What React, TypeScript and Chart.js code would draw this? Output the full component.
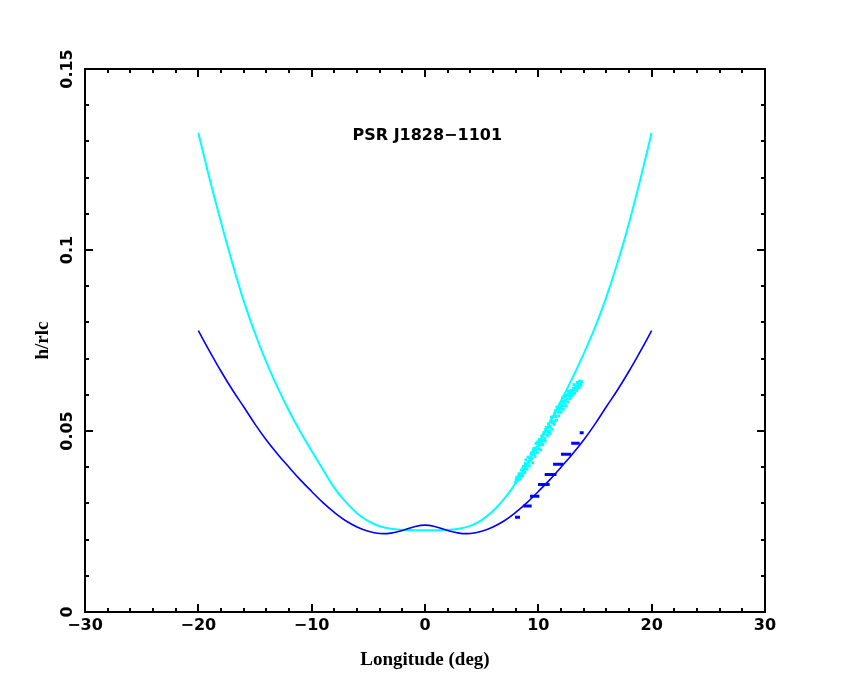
import { useEffect, useRef } from "react";
import { Chart, registerables } from "chart.js";

Chart.register(...registerables);

// model curves, sampled every degree of longitude
const curveLon = [
  -20, -19, -18, -17, -16, -15, -14, -13, -12, -11, -10, -9, -8, -7, -6, -5, -4, -3, -2, -1, 0,
  1, 2, 3, 4, 5, 6, 7, 8, 9, 10, 11, 12, 13, 14, 15, 16, 17, 18, 19, 20,
];
const cyanModel = [
  0.1324, 0.1196, 0.1077, 0.0964, 0.086, 0.077, 0.069, 0.062, 0.0556, 0.0498, 0.0445, 0.0393,
  0.0343, 0.0304, 0.0273, 0.0251, 0.0237, 0.023, 0.0227, 0.0226, 0.0226,
  0.0226, 0.0227, 0.023, 0.0238, 0.0254, 0.0279, 0.0313, 0.0356, 0.0408, 0.0464, 0.0522, 0.0583,
  0.0646, 0.0713, 0.0786, 0.087, 0.0966, 0.1074, 0.1195, 0.1324,
];
const blueModel = [
  0.0777, 0.072, 0.0665, 0.0614, 0.0567, 0.0519, 0.0475, 0.0436, 0.04, 0.0365, 0.0333, 0.0302,
  0.0275, 0.0252, 0.0235, 0.0223, 0.0217, 0.0218, 0.0225, 0.0235, 0.024,
  0.0235, 0.0225, 0.0218, 0.0217, 0.0223, 0.0235, 0.0252, 0.0275, 0.0302, 0.0333, 0.0365, 0.04,
  0.0436, 0.0475, 0.0519, 0.0567, 0.0614, 0.0665, 0.072, 0.0777,
];

// measured emission heights (cyan cloud)
const obsLon = [
  8.0, 8.1, 8.2, 8.3, 8.4, 8.5, 8.6, 8.7, 8.8, 8.9, 9.0, 9.1, 9.2, 9.3, 9.4, 9.5, 9.6, 9.7, 9.8,
  9.9, 10.0, 10.1, 10.2, 10.3, 10.4, 10.5, 10.6, 10.7, 10.8, 10.9, 11.0, 11.1, 11.2, 11.3, 11.4,
  11.5, 11.6, 11.7, 11.8, 11.9, 12.0, 12.1, 12.2, 12.3, 12.4, 12.5, 12.6, 12.7, 12.8, 12.9, 13.0,
  13.1, 13.2, 13.3, 13.4, 13.5, 13.6, 13.7, 13.8,
  8.25, 8.75, 9.25, 9.75, 10.25, 10.75, 11.25, 11.75, 12.25, 12.75, 13.25, 13.75,
  8.05, 8.35, 8.55, 8.65, 8.85, 8.95, 9.15, 9.35, 9.45, 9.55, 9.65, 9.85, 9.95, 10.05, 10.15,
  10.35, 10.45, 10.55, 10.65, 10.85, 10.95, 11.05, 11.15, 11.35, 11.45, 11.55, 11.65, 11.85,
  11.95, 12.05, 12.15, 12.35, 12.45, 12.55, 12.65, 12.85, 12.95, 13.05, 13.15, 13.35, 13.45,
  13.55, 13.65,
];
const obsH = [
  0.0358, 0.0372, 0.0364, 0.0382, 0.0368, 0.0392, 0.0376, 0.0402, 0.0385, 0.042, 0.0395, 0.0428,
  0.0404, 0.0418, 0.044, 0.0412, 0.0452, 0.043, 0.0466, 0.044, 0.0458, 0.0476, 0.0448, 0.0486,
  0.0462, 0.0496, 0.0472, 0.051, 0.0488, 0.052, 0.0494, 0.0528, 0.0505, 0.054, 0.0518, 0.0556,
  0.053, 0.0562, 0.0542, 0.0574, 0.0552, 0.0582, 0.056, 0.0594, 0.057, 0.06, 0.058, 0.0606,
  0.059, 0.0612, 0.0598, 0.0618, 0.0604, 0.0624, 0.0612, 0.0628, 0.062, 0.0632, 0.0636,
  0.0375, 0.0395, 0.0425, 0.0448, 0.0468, 0.0498, 0.0522, 0.0552, 0.0578, 0.0598, 0.0614, 0.0626,
  0.0366, 0.0374, 0.0382, 0.0396, 0.041, 0.0404, 0.0414, 0.0436, 0.0424, 0.0446, 0.0438, 0.0454,
  0.047, 0.045, 0.0462, 0.0474, 0.049, 0.048, 0.0504, 0.051, 0.05, 0.0512, 0.0538, 0.0526,
  0.0548, 0.054, 0.0566, 0.0558, 0.0564, 0.057, 0.0592, 0.0584, 0.0596, 0.0588, 0.061, 0.0604,
  0.0606, 0.0612, 0.0628, 0.0618, 0.0634, 0.0626, 0.0638,
];

// blue horizontal steps
const stepH = [0.0262, 0.0293, 0.032, 0.0352, 0.038, 0.0408, 0.0436, 0.0466, 0.0495];
const stepFrom = [7.94, 8.67, 9.26, 9.97, 10.56, 11.3, 12.0, 12.9, 13.65];
const stepTo = [8.38, 9.41, 10.09, 11.0, 11.6, 12.2, 12.9, 13.65, 14.0];

const xMajor = [-30, -20, -10, 0, 10, 20, 30];
const yMajor = [0, 0.05, 0.1, 0.15];
const yMajorLabels = ["0", "0.05", "0.1", "0.15"];
const plotTitle = "PSR J1828\u22121101";

const frame = {
  id: "frame",
  afterDraw(chart: any) {
    const { ctx, chartArea: a, scales } = chart;
    const xs = scales.x;
    const ys = scales.y;
    ctx.save();
    ctx.strokeStyle = "#000";
    ctx.lineWidth = 2;
    ctx.strokeRect(a.left, a.top, a.right - a.left, a.bottom - a.top);
    ctx.beginPath();
    for (let v = -30; v <= 30; v += 2) {
      const px = Math.round(xs.getPixelForValue(v));
      const len = xMajor.includes(v) ? 8 : 4;
      ctx.moveTo(px, a.bottom);
      ctx.lineTo(px, a.bottom - len);
      ctx.moveTo(px, a.top);
      ctx.lineTo(px, a.top + len);
    }
    for (let i = 0; i <= 15; i++) {
      const py = Math.round(ys.getPixelForValue(i / 100));
      const len = i % 5 === 0 ? 8 : 4;
      ctx.moveTo(a.left, py);
      ctx.lineTo(a.left + len, py);
      ctx.moveTo(a.right, py);
      ctx.lineTo(a.right - len, py);
    }
    ctx.stroke();

    ctx.fillStyle = "#000";
    ctx.textAlign = "center";
    ctx.textBaseline = "middle";
    ctx.font = "bold 16px 'DejaVu Sans'";
    yMajor.forEach((v, i) => {
      ctx.save();
      ctx.translate(a.left - 17, ys.getPixelForValue(v));
      ctx.rotate(-Math.PI / 2);
      ctx.fillText(yMajorLabels[i], 0, 0);
      ctx.restore();
    });
    ctx.fillText(plotTitle, xs.getPixelForValue(0.2), ys.getPixelForValue(0.1315));
    ctx.restore();
  },
};

export default function App() {
  const ref = useRef<HTMLCanvasElement | null>(null);

  useEffect(() => {
    if (!ref.current) return;
    const cyanCurve = curveLon.map((x, i) => ({ x, y: cyanModel[i] }));
    const blueCurve = curveLon.map((x, i) => ({ x, y: blueModel[i] }));
    const obs = obsLon.map((x, i) => ({ x, y: obsH[i] }));
    const steps = stepH.flatMap((h, i) => [
      { x: stepFrom[i], y: h },
      { x: stepTo[i], y: h },
      { x: stepTo[i], y: null },
    ]);

    const chart = new Chart(ref.current, {
      type: "line",
      data: {
        datasets: [
          {
            data: steps as any,
            borderColor: "#0000ff",
            borderWidth: 3,
            pointRadius: 0,
            spanGaps: false,
            borderCapStyle: "butt",
          },
          {
            data: blueCurve,
            borderColor: "#0000ff",
            borderWidth: 1.6,
            pointRadius: 0,
            tension: 0.4,
          },
          {
            type: "scatter",
            data: obs,
            backgroundColor: "#00ffff",
            borderWidth: 0,
            pointStyle: "rect",
            pointRadius: 2.1,
            showLine: false,
          } as any,
          {
            data: cyanCurve,
            borderColor: "#00ffff",
            borderWidth: 2,
            pointRadius: 0,
            tension: 0.4,
          },
        ],
      },
      options: {
        responsive: false,
        animation: false,
        layout: { padding: { top: 69, right: 85, left: 0, bottom: 0 } },
        plugins: { legend: { display: false }, tooltip: { enabled: false } },
        scales: {
          x: {
            type: "linear",
            min: -30,
            max: 30,
            afterFit: (s: any) => {
              s.height = 68;
            },
            grid: { display: false, drawTicks: false },
            border: { display: false },
            ticks: {
              stepSize: 10,
              padding: 4,
              color: "#000",
              maxRotation: 0,
              autoSkip: false,
              font: { family: "DejaVu Sans", size: 16, weight: "bold" },
              callback: (v: any) => String(v).replace("-", "\u2212"),
            },
            title: {
              display: true,
              text: "Longitude (deg)",
              color: "#000",
              font: { family: "Liberation Serif", size: 19, weight: "bold" },
              padding: { top: 0, bottom: 9 },
            },
          },
          y: {
            type: "linear",
            min: 0,
            max: 0.15,
            afterFit: (s: any) => {
              s.width = 85;
            },
            grid: { display: false, drawTicks: false },
            border: { display: false },
            ticks: { display: false },
            title: {
              display: true,
              text: "h/rlc",
              color: "#000",
              font: { family: "Liberation Serif", size: 19, weight: "bold" },
              padding: { top: 32, bottom: 0 },
            },
          },
        },
      },
      plugins: [frame],
    });

    return () => chart.destroy();
  }, []);

  return (
    <div style={{ position: "absolute", left: 0, top: 0, width: 850, height: 680, background: "#fff" }}>
      <canvas ref={ref} width={850} height={680} />
    </div>
  );
}
